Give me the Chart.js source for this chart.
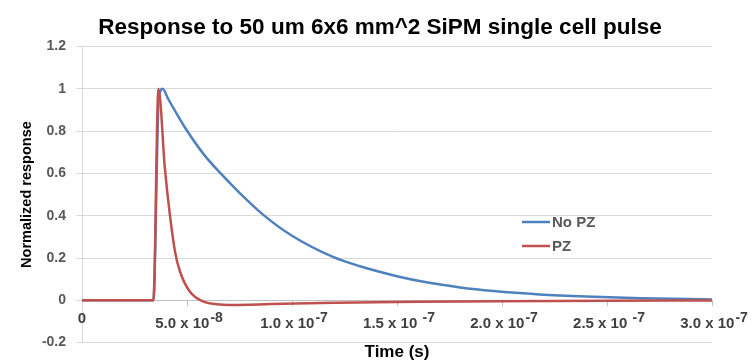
<!DOCTYPE html>
<html>
<head>
<meta charset="utf-8">
<script src="https://cdn.jsdelivr.net/npm/chart.js@4/dist/chart.umd.min.js"></script>
<style>
  html, body { margin: 0; padding: 0; background: #ffffff; }
  #wrap { width: 751px; height: 363px; }
</style>
</head>
<body>
<div id="wrap"><canvas id="c" width="751" height="363"></canvas></div>
<script>
// ---- data (time in seconds, normalized response) ----
const seriesNames = ["No PZ", "PZ"];
const timeNoPZ = [0, 3.40e-8, 3.66e-8, 3.84e-8, 4.1e-8, 4.5e-8, 4.98e-8, 5.8e-8, 6.65e-8, 7.43e-8, 8.62e-8, 1.0e-7, 1.195e-7, 1.32e-7, 1.5e-7, 1.64e-7, 1.8e-7, 1.96e-7, 2.18e-7, 2.4e-7, 2.66e-7, 3.0e-7];
const valNoPZ  = [0, 0,      0.96,    1.0,     0.953,  0.884,  0.805,   0.69,   0.595,   0.515,   0.405,   0.305,  0.205,    0.162,  0.114,  0.085,   0.061,  0.044,   0.028,   0.018,  0.010,   0.004];
const timePZ = [0, 3.40e-8, 3.64e-8, 3.95e-8, 4.19e-8, 4.43e-8, 4.67e-8, 5.14e-8, 5.76e-8, 6.6e-8, 7.2e-8, 9.0e-8, 1.2e-7, 1.6e-7, 2.0e-7, 2.5e-7, 3.0e-7];
const valPZ  = [0, 0,      1.0,     0.62,    0.40,    0.23,    0.135,   0.04,    -0.005,  -0.02,  -0.022, -0.018, -0.012, -0.007, -0.004, -0.002, -0.001];

const xTickValues = [0, 5e-8, 1e-7, 1.5e-7, 2e-7, 2.5e-7, 3e-7];
const xTickBase = ["0", "5.0 x 10", "1.0 x 10", "1.5 x 10 ", "2.0 x 10", "2.5 x 10 ", "3.0 x 10"];
const xTickExp  = ["", "-8", "-7", "-7", "-7", "-7", "-7"];
const yTickLabels = ["-0.2", "0", "0.2", "0.4", "0.6", "0.8", "1", "1.2"];

const chartTitle = "Response to 50 um 6x6 mm^2 SiPM single cell pulse";
const xTitle = "Time (s)";
const yTitle = "Normalized response";

const FONT = "'Liberation Sans', Arial, sans-serif";
const BLUE = "#4F81BD";
const RED = "#C0504D";

function pts(xs, ys) { return xs.map((x, i) => ({ x: x, y: ys[i] })); }

const customDraw = {
  id: 'customDraw',
  afterDraw(chart) {
    const ctx = chart.ctx;
    const xs = chart.scales.x, ys = chart.scales.y;
    const y0 = ys.getPixelForValue(0);
    ctx.save();
    // x tick labels with superscript exponents
    ctx.fillStyle = "#404040";
    ctx.textBaseline = "middle";
    ctx.textAlign = "left";
    const baseFont = "bold 15px " + FONT;
    const supFont = "bold 14px " + FONT;
    xTickValues.forEach((v, i) => {
      const px = xs.getPixelForValue(v) + 2;
      ctx.font = baseFont;
      const w1 = ctx.measureText(xTickBase[i]).width;
      if (!xTickExp[i]) {
        ctx.fillText(xTickBase[i], px - 2 - w1 / 2, y0 + 19);
        return;
      }
      ctx.font = supFont;
      const w2 = ctx.measureText(xTickExp[i]).width;
      const start = px - (w1 + 1 + w2) / 2;
      ctx.font = baseFont;
      ctx.fillText(xTickBase[i], start, y0 + 24);
      ctx.font = supFont;
      ctx.fillText(xTickExp[i], start + w1 + 1, y0 + 18);
    });
    // legend
    const ca = chart.chartArea;
    const lx = ca.left + 440, ly = [222, 246];
    const cols = [BLUE, RED];
    ctx.font = "bold 15px " + FONT;
    ctx.fillStyle = "#595959";
    seriesNames.forEach((name, i) => {
      ctx.strokeStyle = cols[i];
      ctx.lineWidth = 2.5;
      ctx.beginPath();
      ctx.moveTo(lx, ly[i]);
      ctx.lineTo(lx + 28, ly[i]);
      ctx.stroke();
      ctx.fillText(name, lx + 30, ly[i] + 1);
    });
    ctx.restore();
  }
};

new Chart(document.getElementById('c'), {
  type: 'line',
  data: {
    datasets: [
      { label: seriesNames[0], data: pts(timeNoPZ, valNoPZ), borderColor: BLUE, backgroundColor: BLUE,
        borderWidth: 2.5, pointRadius: 0, cubicInterpolationMode: 'monotone', order: 1 },
      { label: seriesNames[1], data: pts(timePZ, valPZ), borderColor: RED, backgroundColor: RED,
        borderWidth: 2.5, pointRadius: 0, cubicInterpolationMode: 'monotone', order: 0 }
    ]
  },
  options: {
    responsive: false,
    animation: false,
    layout: { padding: { left: 9, right: 0, top: 0, bottom: 0 } },
    plugins: {
      legend: { display: false },
      tooltip: { enabled: false },
      title: {
        display: true, text: chartTitle, color: "#000000",
        font: { family: FONT, size: 22.5, weight: 'bold' },
        padding: { top: 14.5, bottom: 5 }
      }
    },
    scales: {
      x: {
        type: 'linear', min: 0, max: 3e-7,
        position: { y: 0 },
        ticks: { stepSize: 5e-8, display: false },
        grid: { drawOnChartArea: false, drawTicks: true, tickLength: 5, color: "#bfbfbf" },
        border: { display: true, color: "#bfbfbf" },
        afterFit(s) { s.paddingLeft = 0; s.paddingRight = 39; }
      },
      x2: {
        type: 'linear', position: 'bottom', display: true,
        ticks: { display: false },
        grid: { display: false, drawTicks: false },
        border: { display: false },
        title: { display: true, text: xTitle, color: "#000000",
                 font: { family: FONT, size: 17, weight: 'bold' }, padding: { top: 0, bottom: 0 } }
      },
      y: {
        type: 'linear', min: -0.2, max: 1.2,
        ticks: { stepSize: 0.2, color: "#595959", padding: 10,
                 font: { family: FONT, size: 14, weight: 'bold' },
                 callback: (v, i) => yTickLabels[i] },
        grid: { color: "#d9d9d9", tickLength: 6 },
        border: { color: "#d9d9d9" },
        title: { display: true, text: yTitle, color: "#000000",
                 font: { family: FONT, size: 14.5, weight: 'bold' }, padding: { top: 9.5, bottom: 0 } },
        afterFit(s) { s.width = 73; }
      }
    }
  },
  plugins: [customDraw]
});
</script>
</body>
</html>
